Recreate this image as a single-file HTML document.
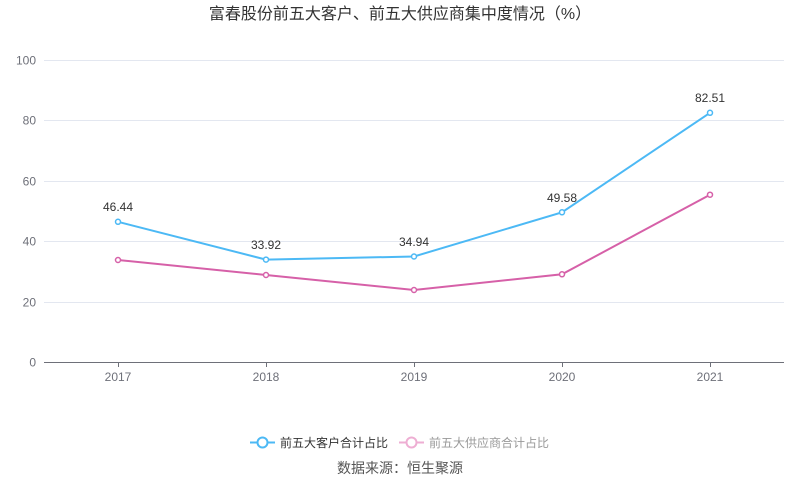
<!DOCTYPE html>
<html><head><meta charset="utf-8"><style>
html,body{margin:0;padding:0;background:#fff;}
svg{display:block;font-family:"Liberation Sans","Noto Sans CJK SC",sans-serif;}
</style></head><body>
<svg width="800" height="501" viewBox="0 0 800 501" xmlns="http://www.w3.org/2000/svg">
<text x="400" y="19" text-anchor="middle" font-size="16" fill="#333">富春股份前五大客户、前五大供应商集中度情况（%）</text>
<g stroke="#e3e7f0" stroke-width="1">
<line x1="44" y1="60.5" x2="784" y2="60.5"/>
<line x1="44" y1="120.5" x2="784" y2="120.5"/>
<line x1="44" y1="181.5" x2="784" y2="181.5"/>
<line x1="44" y1="241.5" x2="784" y2="241.5"/>
<line x1="44" y1="302.5" x2="784" y2="302.5"/>
</g>
<line x1="44" y1="362.5" x2="784" y2="362.5" stroke="#6e7079" stroke-width="1"/>
<g stroke="#6e7079" stroke-width="1">
<line x1="118.5" y1="362" x2="118.5" y2="367"/>
<line x1="266.5" y1="362" x2="266.5" y2="367"/>
<line x1="414.5" y1="362" x2="414.5" y2="367"/>
<line x1="562.5" y1="362" x2="562.5" y2="367"/>
<line x1="710.5" y1="362" x2="710.5" y2="367"/>
</g>
<g font-size="12" fill="#6e7079" text-anchor="end">
<text x="36" y="64.5">100</text>
<text x="36" y="124.5">80</text>
<text x="36" y="185.5">60</text>
<text x="36" y="245.5">40</text>
<text x="36" y="306.5">20</text>
<text x="36" y="366.5">0</text>
</g>
<g font-size="12" fill="#6e7079" text-anchor="middle">
<text x="118" y="381">2017</text>
<text x="266" y="381">2018</text>
<text x="414" y="381">2019</text>
<text x="562" y="381">2020</text>
<text x="710" y="381">2021</text>
</g>
<polyline fill="none" stroke="#d660a8" stroke-width="2" points="118,260 266,275 414,290 562,274.3 710,194.7"/>
<g fill="#fff" stroke="#d660a8" stroke-width="1.5">
<circle cx="118" cy="260" r="2.5"/><circle cx="266" cy="275" r="2.5"/><circle cx="414" cy="290" r="2.5"/><circle cx="562" cy="274.3" r="2.5"/><circle cx="710" cy="194.7" r="2.5"/>
</g>
<polyline fill="none" stroke="#4cb9f5" stroke-width="2" points="118,221.8 266,259.6 414,256.5 562,212.3 710,112.8"/>
<g fill="#fff" stroke="#4cb9f5" stroke-width="1.5">
<circle cx="118" cy="221.8" r="2.5"/><circle cx="266" cy="259.6" r="2.5"/><circle cx="414" cy="256.5" r="2.5"/><circle cx="562" cy="212.3" r="2.5"/><circle cx="710" cy="112.8" r="2.5"/>
</g>
<g font-size="12" fill="#333" text-anchor="middle">
<text x="118" y="211">46.44</text>
<text x="266" y="249">33.92</text>
<text x="414" y="246">34.94</text>
<text x="562" y="202">49.58</text>
<text x="710" y="102">82.51</text>
</g>
<line x1="250" y1="442.5" x2="275" y2="442.5" stroke="#4cb9f5" stroke-width="2"/>
<circle cx="262.5" cy="442.5" r="5" fill="#fff" stroke="#4cb9f5" stroke-width="2"/>
<text x="280" y="447" font-size="12" fill="#333">前五大客户合计占比</text>
<line x1="399" y1="442.5" x2="424" y2="442.5" stroke="#eeaed3" stroke-width="2"/>
<circle cx="411.5" cy="442.5" r="5" fill="#fff" stroke="#eeaed3" stroke-width="2"/>
<text x="429" y="447" font-size="12" fill="#999">前五大供应商合计占比</text>
<text x="400" y="473" text-anchor="middle" font-size="14" fill="#555">数据来源：恒生聚源</text>
</svg>
</body></html>
